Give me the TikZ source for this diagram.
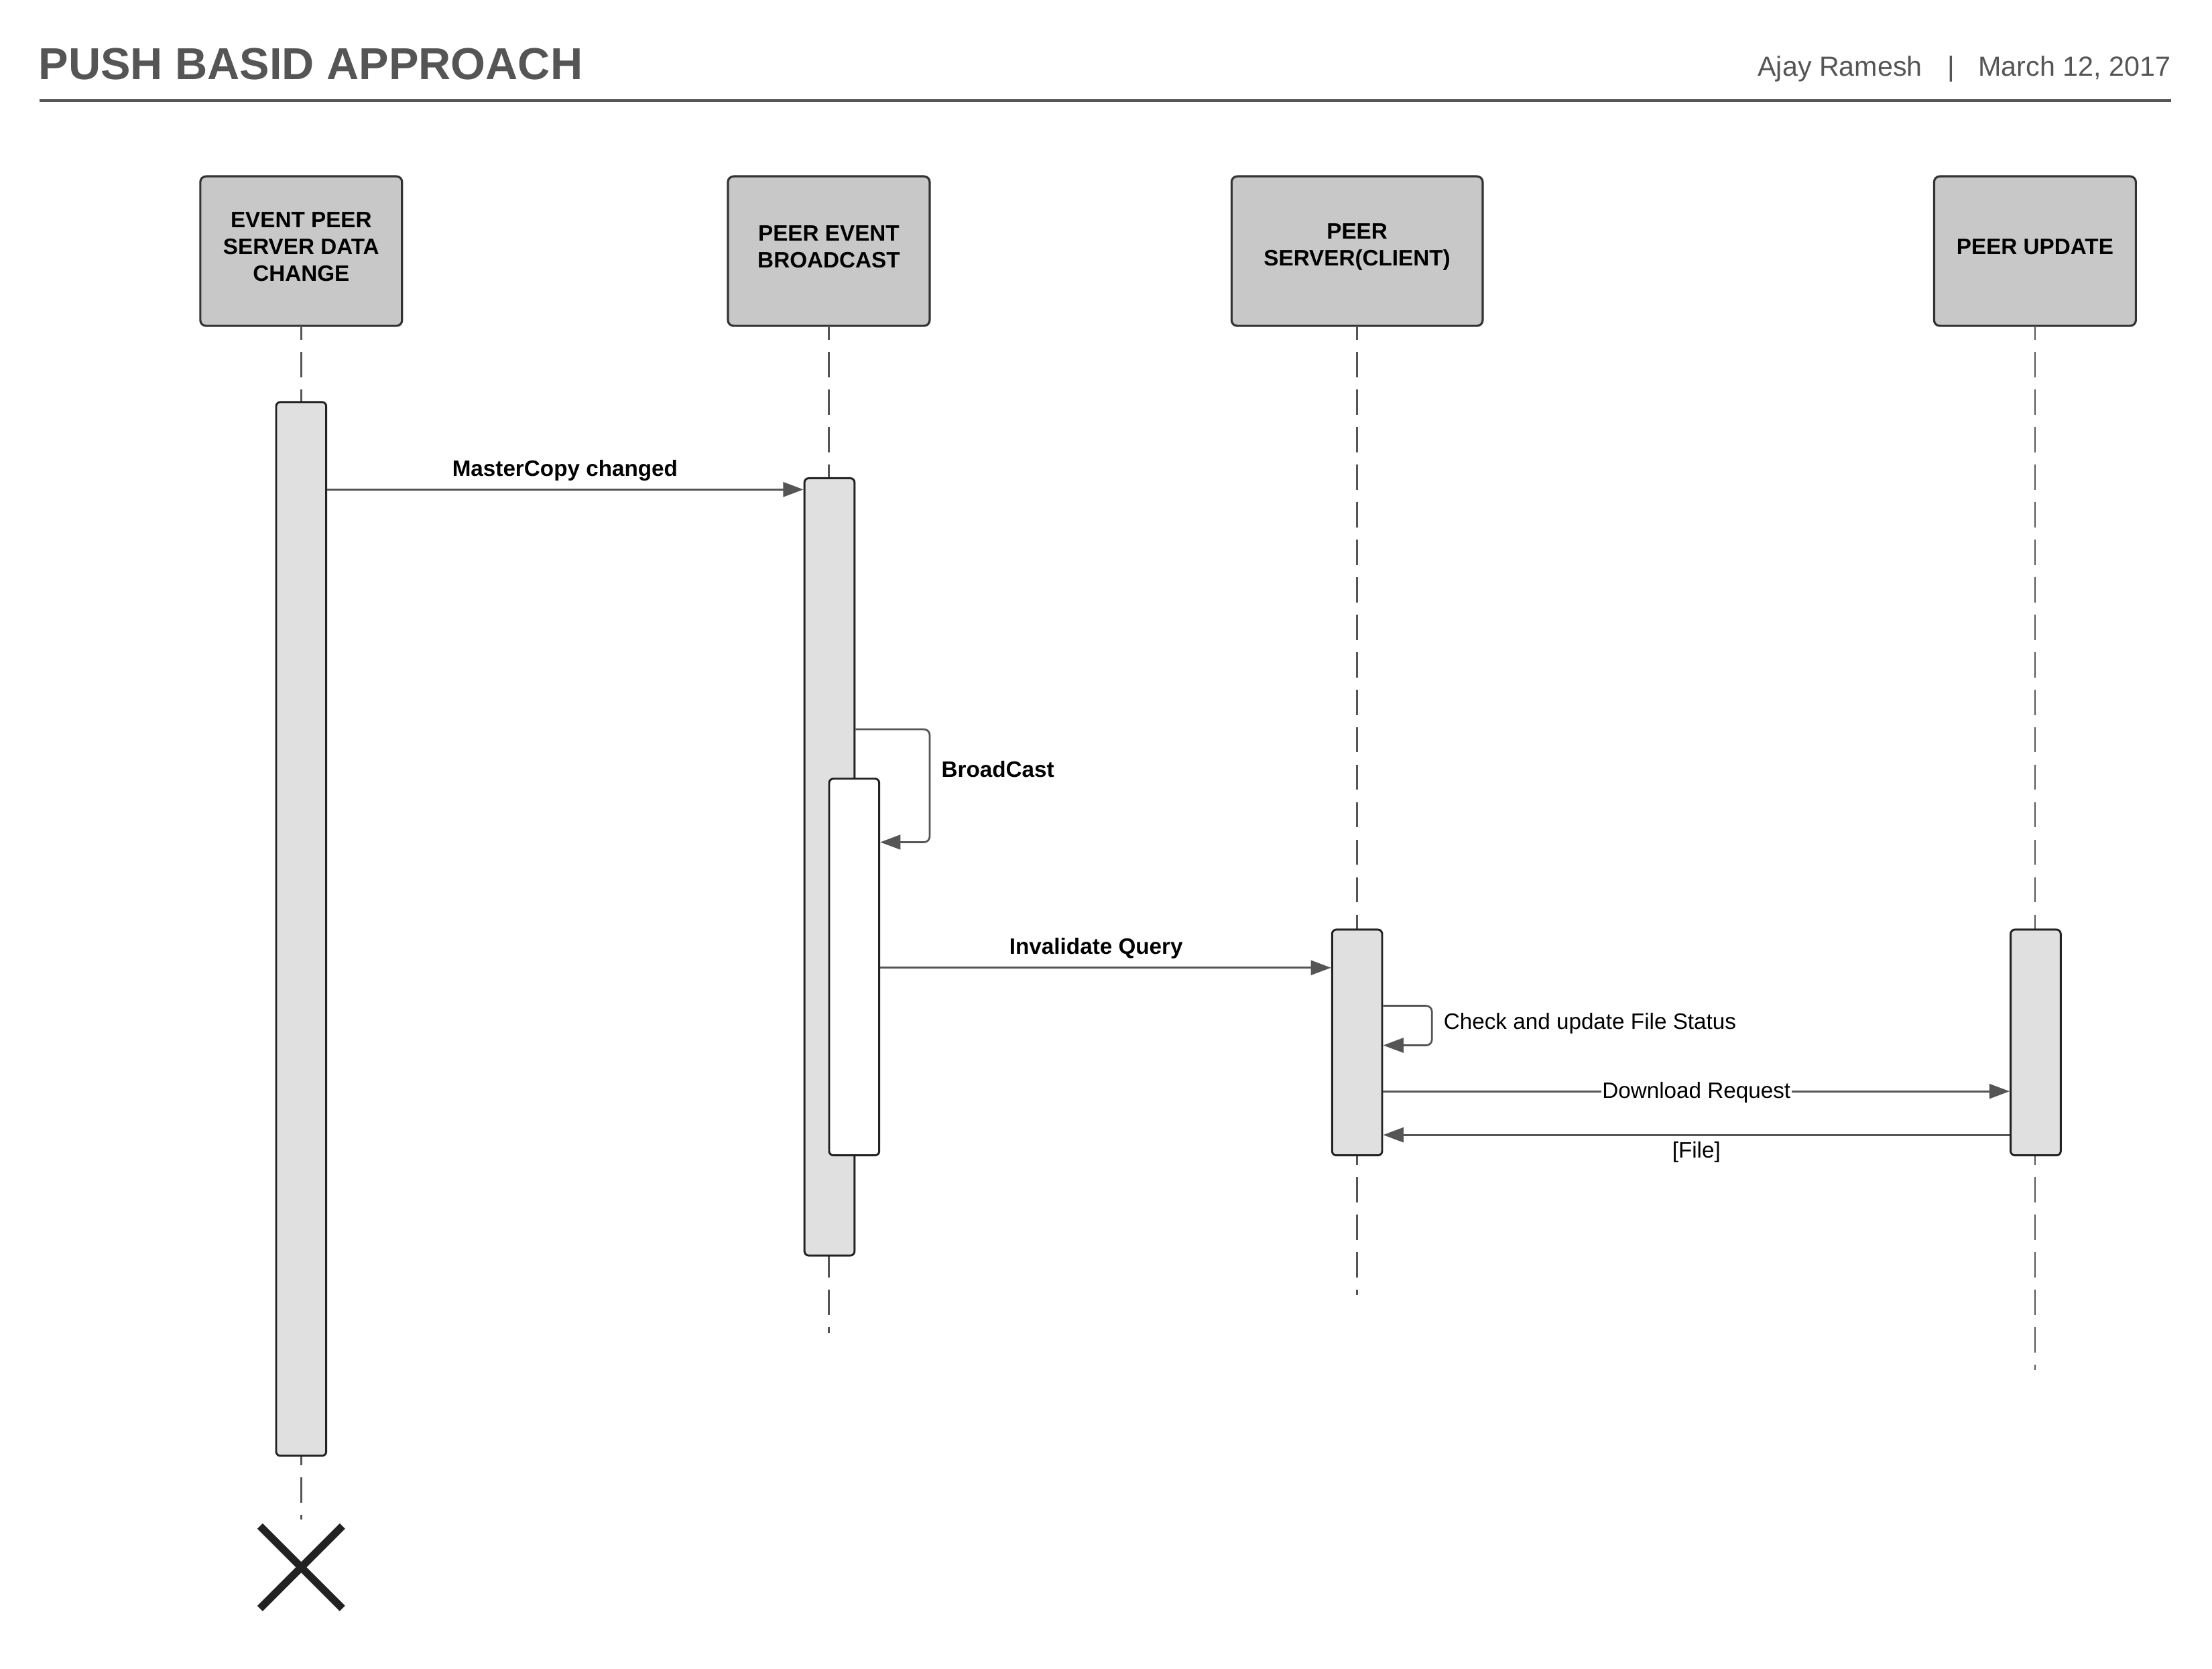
\documentclass[tikz,border=0pt]{standalone}
\usepackage{fontspec}
\setmainfont{Liberation Sans}
\usetikzlibrary{arrows.meta,shapes.misc}
\definecolor{ink}{HTML}{555555}
\definecolor{edge}{HTML}{333333}
\definecolor{headfill}{HTML}{C8C8C8}
\definecolor{actfill}{HTML}{E0E0E0}
\definecolor{dark}{HTML}{222222}
\begin{document}
\begin{tikzpicture}[x=0.5pt,y=-0.5pt,
  head/.style={draw=edge, line width=0.75pt, fill=headfill, rounded corners=2pt,
    minimum width=71.5pt, minimum height=53pt, inner sep=0pt},
  headtxt/.style={align=center, inner sep=0pt,
    font=\fontsize{7.9pt}{9.5pt}\selectfont\bfseries},
  act/.style={draw=dark, line width=0.7pt, fill=actfill, rounded corners=1.5pt,
    minimum width=17.75pt, inner sep=0pt},
  life/.style={draw=ink, line width=0.65pt, dash pattern=on 9pt off 4.3pt, dash phase=4.5pt},
  msg/.style={draw=ink, line width=0.65pt, -{Triangle[length=7.2pt,width=5.2pt]}},
  lbl/.style={font=\fontsize{7.9pt}{9.5pt}\selectfont, inner sep=0pt, anchor=base},
  lblb/.style={lbl, font=\fontsize{7.9pt}{9.5pt}\selectfont\bfseries}
]
\useasboundingbox (0,0) rectangle (1568,1183);

% header
\node[anchor=base west, inner sep=0pt, text=ink,
  font=\fontsize{15.85pt}{18pt}\selectfont\bfseries] (title) at (27,56.3) {PUSH BASID APPROACH};
\coordinate (ruleL) at (28,71.3);
\coordinate (ruleR) at (1539,71.3);
\draw[ink, line width=0.95pt] (ruleL) -- (ruleR);
\node[anchor=base east, inner sep=0pt, text=ink, font=\fontsize{9.8pt}{12pt}\selectfont] (date) at (1539,53.8) {March 12, 2017};
\node[anchor=base, inner sep=0pt, text=ink, font=\fontsize{9.8pt}{12pt}\selectfont] (sep) at (1383,53.8) {|};
\node[anchor=base east, inner sep=0pt, text=ink, font=\fontsize{9.8pt}{12pt}\selectfont] (author) at (1363,53.8) {Ajay Ramesh};

% lifeline heads
\node[head] (h1) at (213.5,178) {};
\node[head] (h2) at (587.5,178) {};
\node[head, minimum width=89pt] (h3) at (962,178) {};
\node[head] (h4) at (1442.5,178) {};
\node[headtxt] (h1t) at ([yshift=1.5pt]h1.center) {EVENT PEER\\SERVER DATA\\CHANGE};
\node[headtxt] (h2t) at ([yshift=1.5pt]h2.center) {PEER EVENT\\BROADCAST};
\node[headtxt] (h3t) at ([yshift=1.5pt]h3.center) {PEER\\SERVER(CLIENT)};
\node[headtxt] (h4t) at ([yshift=1.5pt]h4.center) {PEER UPDATE};

% lifeline ends
\coordinate (e1) at (213.5,1077);
\coordinate (e2) at (587.5,945);
\coordinate (e3) at (962,918);
\coordinate (e4) at (1442.5,971);

\draw[life] (h1.south) -- (e1);
\draw[life] (h2.south) -- (e2);
\draw[life] (h3.south) -- (e3);
\draw[life] (h4.south) -- (e4);

% destruction mark
\node[cross out, draw=dark, line width=2.7pt, minimum size=26.5pt, inner sep=0pt] (x1) at (213.5,1111) {};

% activations
\node[act, minimum height=373.5pt] (a1) at (213.5,658.5) {};
\node[act, minimum height=275.5pt] (a2) at (588,614.5) {};
\node[act, fill=white, minimum height=133.5pt] (a2b) at (605.5,685.5) {};
\node[act, minimum height=80pt] (a3) at (962,739) {};
\node[act, minimum height=80pt] (a4) at (1443,739) {};

% messages
\draw[msg] (a1.east |- 0,347) -- (a2.west |- 0,347);
\node[lblb] (m1) at (400.5,337.4) {MasterCopy changed};

\coordinate (b1) at (659,517);
\coordinate (b2) at (659,597);
\draw[msg, rounded corners=2pt] (a2.east |- b1) -- (b1) -- (b2) -- (a2b.east |- b2);
\node[lblb, anchor=base west] (m2) at (667,551) {BroadCast};

\draw[msg] (a2b.east |- 0,686) -- (a3.west |- 0,686);
\node[lblb] (m3) at (777,676.4) {Invalidate Query};

\coordinate (c1) at (1015,713);
\coordinate (c2) at (1015,741);
\draw[msg, rounded corners=2pt] (a3.east |- c1) -- (c1) -- (c2) -- (a3.east |- c2);
\node[lbl, anchor=base west] (m4) at (1023,729.4) {Check and update File Status};

\draw[msg] (a3.east |- 0,773.6) -- node[lbl, anchor=center, fill=white, inner xsep=0.4pt, inner ysep=1pt, yshift=-0.4pt] (m5) {Download Request} (a4.west |- 0,773.6);

\draw[msg] (a4.west |- 0,804.5) -- (a3.east |- 0,804.5);
\node[lbl] (m6) at (1202.5,821) {[File]};
\end{tikzpicture}
\end{document}
